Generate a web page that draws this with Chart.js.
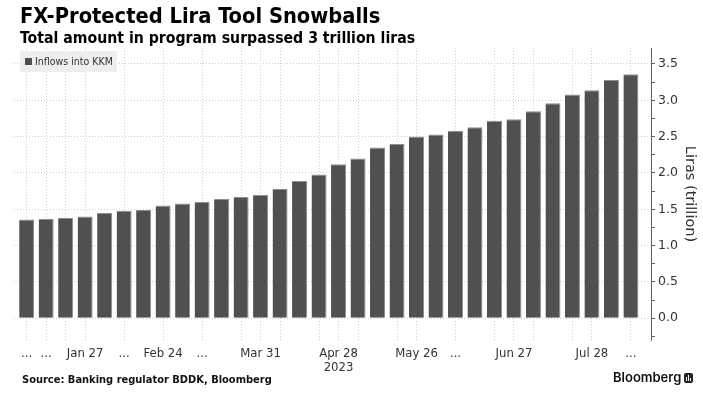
<!DOCTYPE html>
<html>
<head>
<meta charset="utf-8">
<script src="https://cdn.jsdelivr.net/npm/chart.js@4/dist/chart.umd.min.js"></script>
<style>
  html, body { margin: 0; padding: 0; background: #fff; }
  #wrap { position: relative; width: 703px; height: 397px; overflow: hidden; }
  #c { position: absolute; left: 0; top: 0; }
  .title { position: absolute; left: 20px; top: 3px; font-family: "DejaVu Sans Condensed", "DejaVu Sans", sans-serif; font-weight: bold; font-size: 21.7px; color: #000; white-space: nowrap; }
  .subtitle { position: absolute; left: 20px; top: 28px; font-family: "DejaVu Sans Condensed", "DejaVu Sans", sans-serif; font-weight: bold; font-size: 15.7px; color: #000; white-space: nowrap; }
  .legend { position: absolute; left: 20px; top: 51px; width: 97px; height: 21px; background: #eeeeee; font-family: "DejaVu Sans Condensed", "DejaVu Sans", sans-serif; font-size: 10.5px; color: #333; line-height: 21px; white-space: nowrap; }
  .legend .sw { display: inline-block; width: 7px; height: 7px; background: #505050; margin: 0 3px 0 5px; vertical-align: 0px; }
  .source { position: absolute; left: 22px; top: 373px; font-family: "DejaVu Sans Condensed", "DejaVu Sans", sans-serif; font-weight: bold; font-size: 11px; color: #111; white-space: nowrap; }
  .logo { position: absolute; left: 613px; top: 369px; font-family: Inter, "Liberation Sans", sans-serif; font-weight: 600; font-size: 13px; color: #111; white-space: nowrap; }
  .logo .ic { display: inline-block; width: 9px; height: 10px; background: #222; border-radius: 2px; margin-left: 3px; vertical-align: -1px; position: relative; }
  .logo .ic i { position: absolute; bottom: 2px; width: 1px; background: #fff; }
</style>
</head>
<body>
<div id="wrap">
  <canvas id="c" width="703" height="397"></canvas>
  <div class="title">FX-Protected Lira Tool Snowballs</div>
  <div class="subtitle">Total amount in program surpassed 3 trillion liras</div>
  <div class="legend" id="legend"></div>
  <div class="source">Source: Banking regulator BDDK, Bloomberg</div>
  <div class="logo">Bloomberg<span class="ic"><i style="left:2px;height:4px"></i><i style="left:4px;height:6px"></i><i style="left:6px;height:3px"></i></span></div>
</div>
<script>
// Weekly dates (2023)
const weeks = ['Jan 6','Jan 13','Jan 20','Jan 27','Feb 3','Feb 10','Feb 17','Feb 24','Mar 3','Mar 10','Mar 17','Mar 24','Mar 31','Apr 7','Apr 14','Apr 21','Apr 28','May 5','May 12','May 19','May 26','Jun 2','Jun 9','Jun 16','Jun 23','Jun 27','Jul 7','Jul 14','Jul 21','Jul 28','Aug 4','Aug 11'];
// Inflows into KKM, trillion liras
const inflows = [1.36,1.37,1.38,1.40,1.45,1.48,1.49,1.55,1.58,1.60,1.64,1.67,1.70,1.78,1.89,1.98,2.12,2.20,2.35,2.40,2.50,2.53,2.58,2.63,2.72,2.74,2.85,2.96,3.08,3.14,3.28,3.36];
// Tick labels shown under the bars (as in the original, truncated ones shown as "...")
const tickLabels = ['...','...','','Jan 27','','...','','Feb 24','','...','','','Mar 31','','','',['Apr 28','2023'],'','','','May 26','','...','','','Jun 27','','','','Jul 28','','...'];
// Weeks that carry a vertical grid line
const gridWeeks = [0,1,2,3,5,7,9,11,12,13,15,16,17,19,20,22,24,25,26,28,29,31];
// Y axis ticks
const yTicks = [-0.25,0,0.25,0.5,0.75,1,1.25,1.5,1.75,2,2.25,2.5,2.75,3,3.25,3.5];
const yLabelled = [0,0.5,1,1.5,2,2.5,3,3.5];
const seriesName = 'Inflows into KKM';

document.getElementById('legend').innerHTML = '<span class="sw"></span>' + seriesName;

const tickFont = { family: '"DejaVu Sans Condensed", "Liberation Sans Narrow", "DejaVu Sans", sans-serif', size: 13, lineHeight: 1.05 };

new Chart(document.getElementById('c'), {
  type: 'bar',
  data: {
    datasets: [{
      label: seriesName,
      data: inflows.map((v, i) => ({ x: i, y: v })),
      backgroundColor: '#505050',
      borderColor: '#8e8e8e',
      borderWidth: { top: 1, right: 1, left: 0, bottom: 0 },
      borderSkipped: 'bottom',
      barPercentage: 0.77,
      categoryPercentage: 1.0
    }]
  },
  options: {
    responsive: false,
    animation: false,
    layout: { padding: { left: 14, top: 48, right: 0, bottom: 0 } },
    plugins: { legend: { display: false }, tooltip: { enabled: false }, title: { display: false } },
    scales: {
      x: {
        type: 'linear',
        offset: false,
        min: -0.65,
        max: 32.03,
        afterBuildTicks: s => { s.ticks = weeks.map((w, i) => ({ value: i })); },
        afterFit: s => { s.height = 57; },
        ticks: {
          autoSkip: false, maxRotation: 0, minRotation: 0, padding: 7,
          color: '#333', font: tickFont,
          callback: v => tickLabels[v]
        },
        grid: {
          offset: false,
          drawTicks: false,
          color: c => (c.tick && gridWeeks.includes(c.tick.value)) ? '#cfcfcf' : 'rgba(0,0,0,0)',
          lineWidth: 1
        },
        border: { display: false, dash: [1, 2] }
      },
      y: {
        position: 'right',
        min: -0.3,
        max: 3.72,
        afterBuildTicks: s => { s.ticks = yTicks.map(v => ({ value: v })); },
        afterFit: s => { s.width = 52; },
        ticks: {
          padding: 3, color: '#333',
          font: { family: '"DejaVu Sans", sans-serif', size: 12.5 },
          callback: v => yLabelled.includes(v) ? v.toFixed(1) : ''
        },
        grid: {
          color: c => (c.tick && yLabelled.includes(c.tick.value)) ? '#cfcfcf' : 'rgba(0,0,0,0)',
          tickColor: '#666',
          tickLength: 4,
          lineWidth: 1
        },
        border: { display: true, color: '#666', width: 1, dash: [1, 2] },
        title: {
          display: true, text: 'Liras (trillion)', color: '#333',
          font: { family: '"DejaVu Sans", sans-serif', size: 14.5 },
          padding: { top: 5, bottom: 0 }
        }
      }
    }
  }
});
</script>
</body>
</html>
